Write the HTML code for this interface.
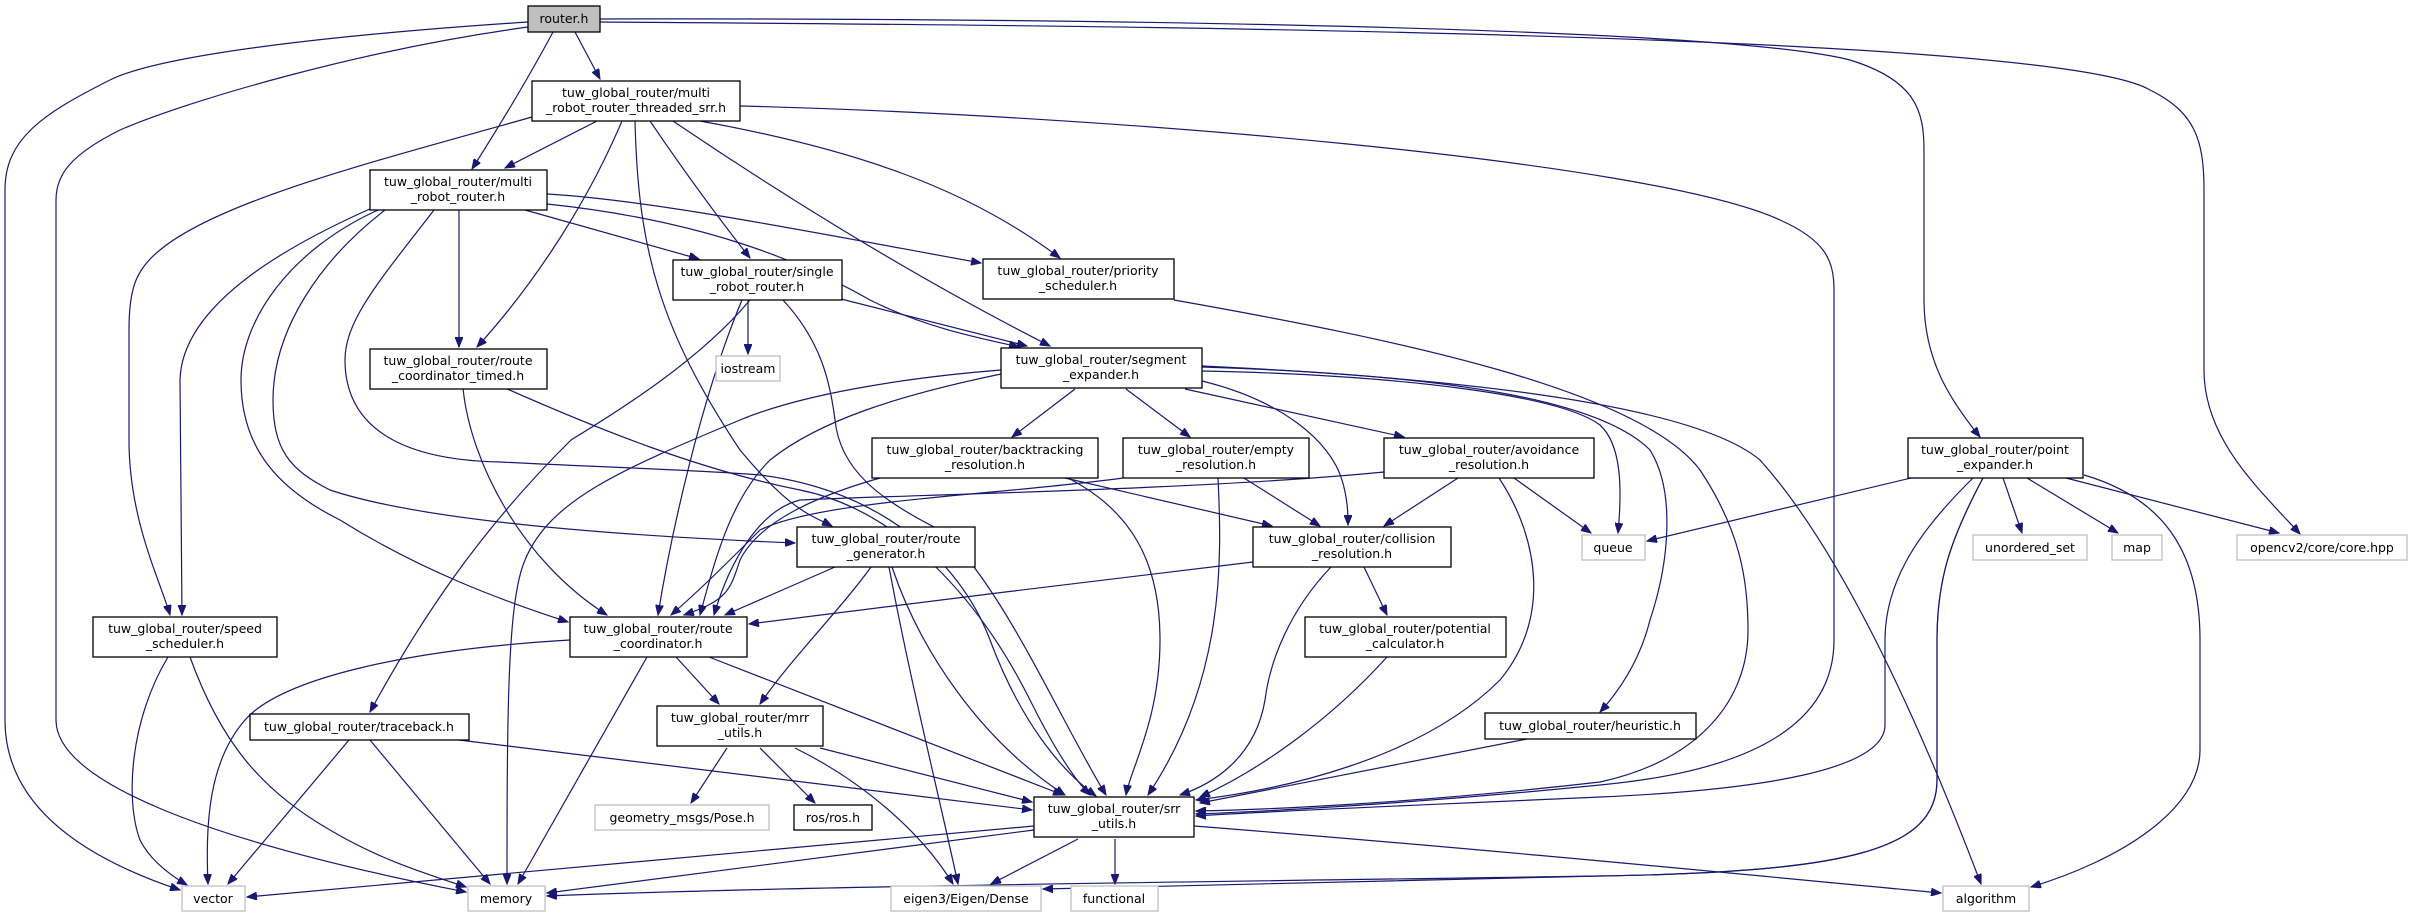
<!DOCTYPE html>
<html><head><meta charset="utf-8"><style>
html,body{margin:0;padding:0;background:#fff;}
svg{display:block;}
text{font-family:"DejaVu Sans","Liberation Sans",sans-serif;font-size:12.5px;fill:#000;text-anchor:middle;}
.n{fill:#fff;stroke:#000;stroke-width:1.3;}
.g{fill:#fff;stroke:#bfbfbf;stroke-width:1.3;}
path.e{fill:none;stroke:#191970;stroke-width:1.2;marker-end:url(#a);}
</style></head><body>
<svg width="2413" height="916" viewBox="0 0 2413 916" xmlns="http://www.w3.org/2000/svg">
<defs><marker id="a" markerUnits="userSpaceOnUse" markerWidth="11" markerHeight="8" refX="10" refY="4" orient="auto"><path d="M0,0 L10,4 L0,8 z" fill="#191970" stroke="#191970"/></marker></defs>

<g>
<path class="e" d="M528,22 C330,35 160,55 110,80 C40,115 5,140 5,190 L5,720 C5,810 90,860 180,890"/>
<path class="e" d="M528,27 C360,50 190,100 120,130 C70,155 56,175 56,200 L56,720 C56,780 200,840 466,892"/>
<path class="e" d="M553,32 C530,75 500,125 472,169"/>
<path class="e" d="M575,32 L600,79"/>
<path class="e" d="M600,19 C900,18 1700,22 1850,60 C1915,80 1924,110 1924,150 L1924,300 C1924,360 1950,400 1980,437"/>
<path class="e" d="M600,22 C1000,25 2050,30 2150,90 C2195,112 2204,140 2204,190 L2204,370 C2204,440 2260,490 2300,534"/>
<path class="e" d="M597,121 L505,168"/>
<path class="e" d="M532,117 C380,160 220,200 160,250 C135,270 129,290 129,330 L129,440 C129,520 160,580 170,615"/>
<path class="e" d="M622,121 C580,220 520,300 477,347"/>
<path class="e" d="M635,121 C638,250 660,330 740,450 C790,510 810,515 832,526"/>
<path class="e" d="M650,121 C690,180 720,220 750,258"/>
<path class="e" d="M700,121 C860,150 970,190 1060,258"/>
<path class="e" d="M673,121 C760,180 900,270 1050,346"/>
<path class="e" d="M740,106 C1100,115 1650,160 1780,220 C1825,240 1834,260 1834,290 L1834,640 C1834,720 1760,770 1600,785 C1400,805 1250,812 1196,814"/>
<path class="e" d="M372,208 C300,240 182,300 180,380 L182,615"/>
<path class="e" d="M378,210 C290,250 241,320 241,380 C241,450 280,490 340,520 C420,570 500,600 568,622"/>
<path class="e" d="M385,210 C320,260 273,330 273,400 C273,450 290,470 330,490 C420,520 600,535 795,543"/>
<path class="e" d="M434,210 C380,280 345,320 345,360 C345,420 390,460 500,462 C620,468 700,470 760,475 C880,490 960,560 990,640 C1020,720 1060,770 1096,796"/>
<path class="e" d="M459,210 L459,347"/>
<path class="e" d="M525,210 L699,259"/>
<path class="e" d="M547,194 C650,200 800,230 981,263"/>
<path class="e" d="M547,204 C700,220 800,260 870,300 C930,330 990,340 1019,347"/>
<path class="e" d="M748,300 L748,354"/>
<path class="e" d="M841,299 L1027,346"/>
<path class="e" d="M742,300 C700,400 670,540 658,615"/>
<path class="e" d="M750,300 C700,360 620,410 571,440 C480,530 420,620 370,712"/>
<path class="e" d="M783,300 C820,340 830,380 835,420 C840,470 880,500 940,530 C1000,580 1060,720 1106,795"/>
<path class="e" d="M463,388 C470,460 520,560 607,615"/>
<path class="e" d="M505,388 C600,430 700,470 800,490 C900,510 980,600 1030,700 C1055,750 1075,780 1090,795"/>
<path class="e" d="M1174,300 C1400,340 1640,390 1700,470 C1740,530 1748,580 1748,630 C1748,700 1700,760 1600,782 C1400,805 1250,810 1196,811"/>
<path class="e" d="M1075,389 L1012,437"/>
<path class="e" d="M1126,389 L1190,437"/>
<path class="e" d="M1185,389 L1404,437"/>
<path class="e" d="M1202,381 C1280,400 1330,440 1342,480 C1348,500 1348,515 1348,525"/>
<path class="e" d="M1202,371 C1400,375 1560,395 1600,425 C1622,445 1622,490 1618,533"/>
<path class="e" d="M1202,367 C1450,375 1600,400 1650,450 C1675,490 1670,560 1650,620 C1640,660 1620,690 1600,712"/>
<path class="e" d="M1202,366 C1500,380 1700,410 1760,460 C1850,560 1930,750 1981,884"/>
<path class="e" d="M1001,370 C900,378 800,395 740,420 C620,470 550,500 525,560 C508,600 507,700 507,884"/>
<path class="e" d="M1001,374 C900,395 820,420 770,460 C730,500 715,560 700,615"/>
<path class="e" d="M1065,478 L1272,526"/>
<path class="e" d="M880,478 C820,495 760,520 740,560 C730,590 728,600 684,615"/>
<path class="e" d="M1068,478 C1130,510 1160,560 1160,640 C1160,720 1130,770 1126,795"/>
<path class="e" d="M1244,478 L1320,526"/>
<path class="e" d="M1218,478 C1222,560 1225,680 1148,795"/>
<path class="e" d="M1123,478 C1000,495 820,500 760,530 C730,560 700,590 671,615"/>
<path class="e" d="M1458,478 L1384,526"/>
<path class="e" d="M1514,478 L1591,533"/>
<path class="e" d="M1499,478 C1540,540 1550,620 1500,680 C1420,760 1280,790 1196,800"/>
<path class="e" d="M1384,472 C1200,490 900,495 800,500 C760,510 730,560 714,615"/>
<path class="e" d="M1253,562 C1100,580 900,605 749,624"/>
<path class="e" d="M1364,567 L1387,615"/>
<path class="e" d="M1331,567 C1290,610 1270,660 1265,700 C1255,760 1210,785 1180,795"/>
<path class="e" d="M1387,657 C1330,720 1260,770 1200,797"/>
<path class="e" d="M1527,739 L1200,803"/>
<path class="e" d="M835,567 L725,615"/>
<path class="e" d="M871,567 C840,610 790,660 760,704"/>
<path class="e" d="M892,567 C920,650 980,740 1065,795"/>
<path class="e" d="M889,567 C910,680 940,800 958,884"/>
<path class="e" d="M570,640 C400,650 280,680 245,720 C210,760 205,820 208,884"/>
<path class="e" d="M647,657 L518,884"/>
<path class="e" d="M676,657 L719,704"/>
<path class="e" d="M709,657 L1063,795"/>
<path class="e" d="M168,657 C130,720 125,800 140,840 C150,860 170,875 187,885"/>
<path class="e" d="M190,657 C220,740 260,790 330,830 C380,860 430,875 466,887"/>
<path class="e" d="M349,740 L228,884"/>
<path class="e" d="M370,740 L490,884"/>
<path class="e" d="M459,740 L1032,810"/>
<path class="e" d="M727,748 L691,803"/>
<path class="e" d="M760,748 L815,803"/>
<path class="e" d="M795,748 C860,780 920,830 953,884"/>
<path class="e" d="M820,748 L1032,802"/>
<path class="e" d="M1034,826 L247,897"/>
<path class="e" d="M1034,830 L547,893"/>
<path class="e" d="M1078,839 L991,884"/>
<path class="e" d="M1115,839 L1115,884"/>
<path class="e" d="M1194,826 C1500,850 1800,880 1941,893"/>
<path class="e" d="M1911,478 L1647,541"/>
<path class="e" d="M2003,478 L2022,533"/>
<path class="e" d="M2027,478 L2118,533"/>
<path class="e" d="M2066,478 L2279,533"/>
<path class="e" d="M2084,475 C2170,500 2200,560 2200,640 L2200,750 C2200,810 2120,860 2031,887"/>
<path class="e" d="M1973,478 C1920,530 1885,580 1885,640 L1885,725 C1885,770 1760,790 1600,797 C1400,806 1250,812 1196,816"/>
<path class="e" d="M1983,478 C1950,540 1937,580 1937,640 L1937,780 C1937,850 1850,872 1600,876 L1043,889"/>
<path class="e" d="M1983,478 C1950,540 1937,580 1937,640 L1937,780 C1937,850 1850,872 1600,876 C1200,882 800,886 547,896"/>
</g>

<rect x="528" y="6" width="72" height="26" fill="#bfbfbf" stroke="#000" stroke-width="1.3"/><text x="564" y="23">router.h</text>
<rect class="n" x="532" y="81" width="208" height="40"/><text x="636" y="97">tuw_global_router/multi</text><text x="636" y="112">_robot_router_threaded_srr.h</text>
<rect class="n" x="370" y="170" width="177" height="40"/><text x="458" y="186">tuw_global_router/multi</text><text x="458" y="201">_robot_router.h</text>
<rect class="n" x="673" y="260" width="169" height="40"/><text x="757" y="276">tuw_global_router/single</text><text x="757" y="291">_robot_router.h</text>
<rect class="g" x="716" y="356" width="64" height="25"/><text x="748" y="373">iostream</text>
<rect class="n" x="370" y="349" width="177" height="40"/><text x="458" y="365">tuw_global_router/route</text><text x="458" y="380">_coordinator_timed.h</text>
<rect class="n" x="983" y="259" width="191" height="40"/><text x="1078" y="275">tuw_global_router/priority</text><text x="1078" y="290">_scheduler.h</text>
<rect class="n" x="1001" y="348" width="201" height="40"/><text x="1101" y="364">tuw_global_router/segment</text><text x="1101" y="379">_expander.h</text>
<rect class="n" x="872" y="438" width="226" height="40"/><text x="985" y="454">tuw_global_router/backtracking</text><text x="985" y="469">_resolution.h</text>
<rect class="n" x="1123" y="438" width="186" height="40"/><text x="1216" y="454">tuw_global_router/empty</text><text x="1216" y="469">_resolution.h</text>
<rect class="n" x="1384" y="438" width="210" height="40"/><text x="1489" y="454">tuw_global_router/avoidance</text><text x="1489" y="469">_resolution.h</text>
<rect class="n" x="1908" y="438" width="175" height="40"/><text x="1995" y="454">tuw_global_router/point</text><text x="1995" y="469">_expander.h</text>
<rect class="n" x="797" y="527" width="178" height="40"/><text x="886" y="543">tuw_global_router/route</text><text x="886" y="558">_generator.h</text>
<rect class="n" x="1253" y="527" width="198" height="40"/><text x="1352" y="543">tuw_global_router/collision</text><text x="1352" y="558">_resolution.h</text>
<rect class="g" x="1582" y="535" width="63" height="25"/><text x="1613" y="552">queue</text>
<rect class="g" x="1973" y="535" width="114" height="25"/><text x="2030" y="552">unordered_set</text>
<rect class="g" x="2112" y="535" width="50" height="25"/><text x="2137" y="552">map</text>
<rect class="g" x="2237" y="535" width="170" height="25"/><text x="2322" y="552">opencv2/core/core.hpp</text>
<rect class="n" x="93" y="617" width="184" height="40"/><text x="185" y="633">tuw_global_router/speed</text><text x="185" y="648">_scheduler.h</text>
<rect class="n" x="570" y="617" width="177" height="40"/><text x="658" y="633">tuw_global_router/route</text><text x="658" y="648">_coordinator.h</text>
<rect class="n" x="1305" y="617" width="201" height="40"/><text x="1405" y="633">tuw_global_router/potential</text><text x="1405" y="648">_calculator.h</text>
<rect class="n" x="1485" y="713" width="211" height="26"/><text x="1590" y="730">tuw_global_router/heuristic.h</text>
<rect class="n" x="250" y="714" width="219" height="26"/><text x="359" y="731">tuw_global_router/traceback.h</text>
<rect class="n" x="657" y="706" width="166" height="40"/><text x="740" y="722">tuw_global_router/mrr</text><text x="740" y="737">_utils.h</text>
<rect class="g" x="595" y="805" width="174" height="25"/><text x="682" y="822">geometry_msgs/Pose.h</text>
<rect class="n" x="794" y="805" width="78" height="25"/><text x="833" y="822">ros/ros.h</text>
<rect class="n" x="1034" y="797" width="160" height="40"/><text x="1114" y="813">tuw_global_router/srr</text><text x="1114" y="828">_utils.h</text>
<rect class="g" x="182" y="886" width="63" height="25"/><text x="213" y="903">vector</text>
<rect class="g" x="468" y="886" width="77" height="25"/><text x="506" y="903">memory</text>
<rect class="g" x="891" y="886" width="150" height="25"/><text x="966" y="903">eigen3/Eigen/Dense</text>
<rect class="g" x="1071" y="886" width="87" height="25"/><text x="1114" y="903">functional</text>
<rect class="g" x="1943" y="886" width="86" height="25"/><text x="1986" y="903">algorithm</text>
</svg>
</body></html>
